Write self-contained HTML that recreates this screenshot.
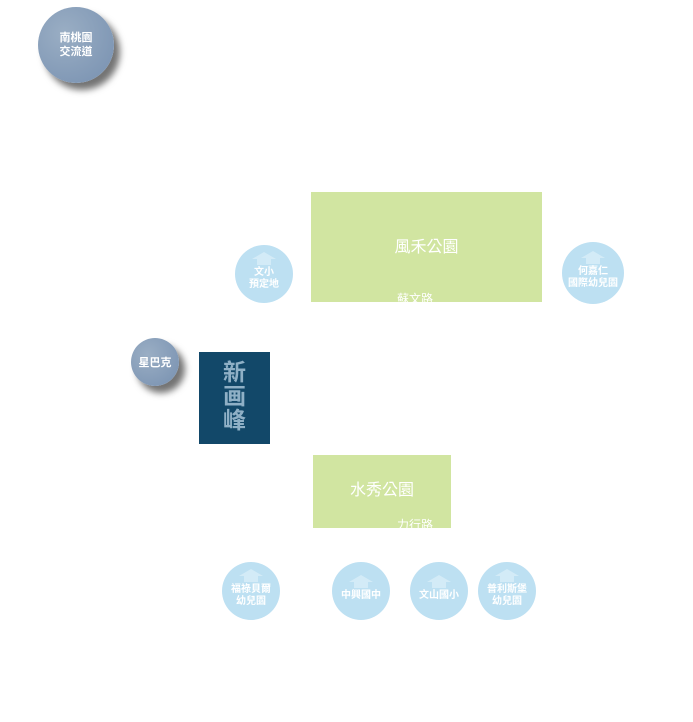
<html><head><style>
body{margin:0;width:693px;height:722px;background:#fff;position:relative;overflow:hidden;font-family:"Liberation Sans","Noto Sans CJK TC",sans-serif}
.a{position:absolute}
.g{background:#d1e5a1;color:#fff;display:flex;align-items:center;justify-content:center;overflow:hidden}
.c{border-radius:50%;background:#bde0f2;color:#fff;display:flex;flex-direction:column;align-items:center;justify-content:center;font-size:10px;line-height:12px;text-align:center;overflow:hidden;font-weight:bold}
.c .cap{width:0;height:0;border-left:12px solid transparent;border-right:12px solid transparent;border-bottom:7px solid #d3ebf7;position:relative;margin-top:-6px}
.c .cap:after{content:"";position:absolute;left:-7px;top:7px;width:14px;height:6px;background:#d3ebf7}
.c .cap+div{margin-top:8px}
.d{border-radius:50%;background:radial-gradient(circle at 35% 35%,#9aaec4,#7790b0);color:#fff;display:flex;align-items:center;justify-content:center;text-align:center;box-shadow:6px 7px 7px rgba(0,0,0,.55);font-weight:bold}
</style></head><body>
<div class="a d" style="left:38px;top:7px;width:76px;height:76px;font-size:11px;line-height:14px">南桃園<br>交流道</div>
<div class="a g" style="left:311px;top:192px;width:231px;height:110px;font-size:16px;padding-bottom:4px;box-sizing:border-box">風禾公園</div>
<div class="a" style="left:397px;top:290px;color:#fff;font-size:12px;width:44px;height:12px;overflow:hidden">蘇文路</div>
<div class="a c" style="left:235px;top:245px;width:58px;height:58px"><div class="cap"></div><div>文小<br>預定地</div></div>
<div class="a c" style="left:562px;top:242px;width:62px;height:62px"><div class="cap"></div><div>何嘉仁<br>國際幼兒園</div></div>
<div class="a d" style="left:131px;top:338px;width:48px;height:48px;font-size:11px">星巴克</div>
<div class="a" style="left:199px;top:352px;width:71px;height:92px;background:#124869;color:#8fb0c6;font-size:23px;line-height:24px;font-weight:bold;text-align:center;padding-top:8px;box-sizing:border-box">新<br>画<br>峰</div>
<div class="a g" style="left:313px;top:455px;width:138px;height:73px;font-size:16px;padding-bottom:8px;box-sizing:border-box">水秀公園</div>
<div class="a" style="left:397px;top:516px;color:#fff;font-size:12px">力行路</div>
<div class="a c" style="left:222px;top:562px;width:58px;height:58px"><div class="cap"></div><div>福祿貝爾<br>幼兒園</div></div>
<div class="a c" style="left:332px;top:562px;width:58px;height:58px"><div class="cap"></div><div>中興國中</div></div>
<div class="a c" style="left:410px;top:562px;width:58px;height:58px"><div class="cap"></div><div>文山國小</div></div>
<div class="a c" style="left:478px;top:562px;width:58px;height:58px"><div class="cap"></div><div>普利斯堡<br>幼兒園</div></div>
</body></html>
